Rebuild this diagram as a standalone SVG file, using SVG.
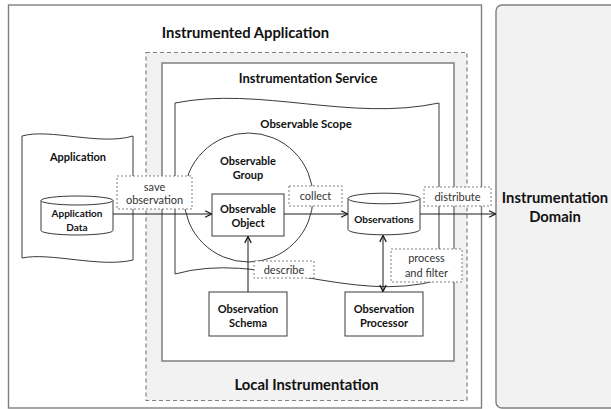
<svg xmlns="http://www.w3.org/2000/svg" width="611" height="409" viewBox="0 0 611 409">
<defs>
<style>
.frame{fill:#fff;stroke:#7f7f7f;stroke-width:1.4}
.domain{fill:#f2f2f2;stroke:#7f7f7f;stroke-width:1.4}
.local{fill:#f2f2f2;stroke:#7f7f7f;stroke-width:1.2;stroke-dasharray:4 3}
.svc{fill:#fff;stroke:#7f7f7f;stroke-width:1.5}
.shape{fill:#fff;stroke:#3a3a3a;stroke-width:1}
.nofill{fill:none;stroke:#3a3a3a;stroke-width:1}
.lbl{fill:#fff;stroke:#7f7f7f;stroke-width:1;stroke-dasharray:2 2}
.edge{fill:none;stroke:#1a1a1a;stroke-width:1}
text{font-family:Lato,"Open Sans","Liberation Sans",sans-serif;text-anchor:middle;fill:#111}
.title{font-weight:bold;font-size:14.8px}
.sub{font-weight:bold;font-size:13px}
.scope{font-weight:bold;font-size:11.4px}
.node{font-weight:bold;font-size:11px}
.small{font-weight:bold;font-size:10px}
.lt{font-size:11px;fill:#333}
</style>
<marker id="arr" viewBox="0 0 10 10" refX="9" refY="5" markerWidth="8" markerHeight="8" markerUnits="userSpaceOnUse" orient="auto-start-reverse">
<path d="M1,1 L9,5 L1,9" fill="none" stroke="#1a1a1a" stroke-width="1.6"/>
</marker>
</defs>

<g id="instrumented-application">
<rect class="frame" x="8.5" y="5" width="473" height="403"/>
<text class="title" x="245.5" y="37.5">Instrumented Application</text>
</g>

<g id="instrumentation-domain">
<rect class="domain" x="496" y="5" width="130" height="403" rx="6"/>
<text class="title" x="555" y="203">Instrumentation</text>
<text class="title" x="555" y="222">Domain</text>
</g>

<g id="local-instrumentation">
<rect class="local" x="146" y="52.5" width="321" height="348"/>
<text class="title" x="306.5" y="390">Local Instrumentation</text>
</g>

<g id="instrumentation-service">
<rect class="svc" x="162" y="63" width="292" height="298"/>
<text class="sub" x="308" y="83">Instrumentation Service</text>
</g>

<g id="observable-scope">
<path class="shape" d="M175,103 C260,86 350,122 439,103 L439,280 C350,305 260,250 175,274 Z"/>
<text class="scope" x="306" y="127.5">Observable Scope</text>
</g>

<g id="application">
<path class="shape" d="M22,136 C50,128 100,146 133,136 L133,260 C100,268 50,252 22,258 Z"/>
<text class="node" x="78" y="161">Application</text>
</g>

<g id="application-data">
<path class="shape" d="M41,200.5 L41,230.5 A36,4.5 0 0 0 113,230.5 L113,200.5"/>
<ellipse class="shape" cx="77" cy="200.5" rx="36" ry="4.5"/>
<text class="small" x="77" y="216.5">Application</text>
<text class="small" x="77" y="230.5">Data</text>
</g>

<g id="observable-group">
<circle class="nofill" cx="248.5" cy="197.5" r="64.5"/>
<text class="node" x="248" y="165">Observable</text>
<text class="node" x="248" y="179">Group</text>
</g>

<g id="observable-object">
<rect class="shape" x="212" y="194" width="72" height="42"/>
<text class="node" x="248" y="213">Observable</text>
<text class="node" x="248" y="226.5">Object</text>
</g>

<g id="observations">
<path class="shape" d="M348,198.5 L348,229.5 A36,5.3 0 0 0 420,229.5 L420,198.5"/>
<ellipse class="shape" cx="384" cy="198.5" rx="36" ry="5.3"/>
<text class="small" x="384" y="222.5">Observations</text>
</g>

<g id="observation-schema">
<rect class="shape" x="209" y="292" width="78" height="44"/>
<text class="node" x="248" y="312.5">Observation</text>
<text class="node" x="248" y="326.5">Schema</text>
</g>

<g id="observation-processor">
<rect class="shape" x="345" y="292" width="78" height="44"/>
<text class="node" x="384" y="312.5">Observation</text>
<text class="node" x="384" y="326.5">Processor</text>
</g>

<g id="connectors">
<line class="edge" x1="113" y1="214" x2="211.5" y2="214" marker-end="url(#arr)"/>
<line class="edge" x1="284" y1="214" x2="347.5" y2="214" marker-end="url(#arr)"/>
<line class="edge" x1="420" y1="214" x2="495.5" y2="214" marker-end="url(#arr)"/>
<line class="edge" x1="248" y1="292" x2="248" y2="236.5" marker-end="url(#arr)"/>
<line class="edge" x1="383" y1="235.5" x2="383" y2="291.5" marker-start="url(#arr)" marker-end="url(#arr)"/>
</g>

<g id="label-save-observation">
<rect class="lbl" x="117" y="176" width="75" height="33"/>
<text class="lt" x="154.5" y="190.5">save</text>
<text class="lt" x="154.5" y="204">observation</text>
</g>
<g id="label-collect">
<rect class="lbl" x="289" y="186" width="53" height="20"/>
<text class="lt" x="315.5" y="200">collect</text>
</g>
<g id="label-distribute">
<rect class="lbl" x="424" y="187" width="67" height="19"/>
<text class="lt" x="457.5" y="200.5">distribute</text>
</g>
<g id="label-describe">
<rect class="lbl" x="254" y="261" width="60" height="17"/>
<text class="lt" x="284" y="273.5">describe</text>
</g>
<g id="label-process-filter">
<rect class="lbl" x="391" y="249" width="71" height="33"/>
<text class="lt" x="426.5" y="262">process</text>
<text class="lt" x="426.5" y="276.5">and filter</text>
</g>
</svg>
